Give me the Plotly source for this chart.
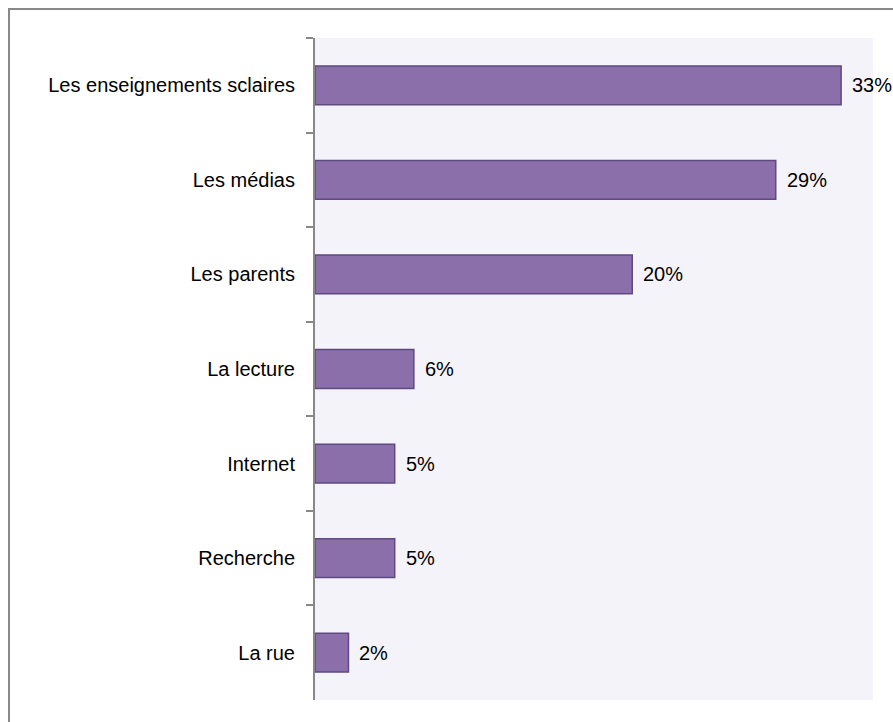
import plotly.graph_objects as go

categories = ["Les enseignements sclaires", "Les médias", "Les parents", "La lecture",
              "Internet", "Recherche", "La rue"]
values = [33.0, 28.9, 19.9, 6.2, 5.0, 5.0, 2.1]
value_labels = ["33%", "29%", "20%", "6%", "5%", "5%", "2%"]

FONT = "Liberation Sans, Arial, sans-serif"

fig = go.Figure()
fig.add_trace(go.Bar(
    x=values, y=categories, orientation="h",
    marker=dict(color="#8A6FAA", line=dict(color="#5E4A80", width=1.5)),
    width=0.41, hoverinfo="skip",
))

for c, v, t in zip(categories, values, value_labels):
    fig.add_annotation(x=v, y=c, text=t, showarrow=False, xanchor="left",
                       xshift=9, font=dict(family=FONT, size=20, color="#000000"))

fig.update_layout(
    width=893, height=722,
    margin=dict(l=315, r=20, t=38, b=22),
    paper_bgcolor="#FFFFFF", plot_bgcolor="#F5F3FA",
    showlegend=False,
    font=dict(family=FONT, size=20, color="#000000"),
    xaxis=dict(range=[0, 35], showgrid=False, showticklabels=False, zeroline=False,
               showline=False, ticks=""),
    yaxis=dict(type="category", autorange="reversed", showgrid=False,
               showline=True, linecolor="#888888", linewidth=2,
               ticks="outside", ticklen=7, tickcolor="#888888", tickwidth=2,
               tickson="boundaries", ticklabelstandoff=14,
               tickfont=dict(family=FONT, size=20, color="#000000")),
    shapes=[dict(type="rect", xref="paper", yref="paper",
                 x0=(9 - 315) / 558, x1=1.2, y0=-0.2, y1=1 + (38 - 9) / 662,
                 line=dict(color="#888888", width=2), fillcolor="rgba(0,0,0,0)",
                 layer="below")],
)

fig.write_html("out.html")
